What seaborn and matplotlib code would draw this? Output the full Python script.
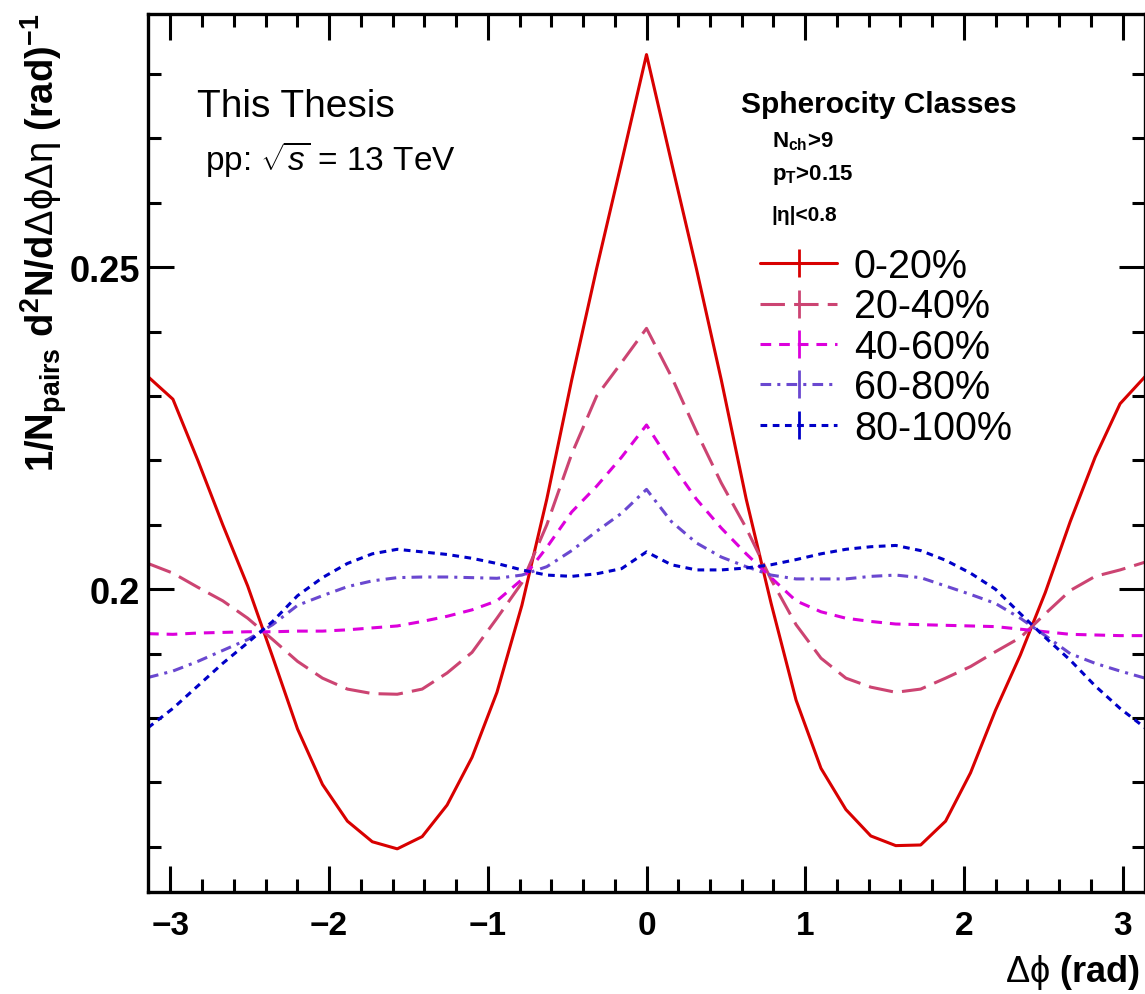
import numpy as np
import pandas as pd
import matplotlib
matplotlib.use("Agg")
import matplotlib.pyplot as plt
from matplotlib.lines import Line2D
from matplotlib.ticker import FixedLocator, FixedFormatter, MultipleLocator
import seaborn as sns

# ---- data: two-particle angular correlations per spherocity class ----
dphi = np.linspace(-np.pi, np.pi, 41)

classes = ["0-20%", "20-40%", "40-60%", "60-80%", "80-100%"]

s0_20 = [0.2330, 0.2295, 0.2200, 0.2100, 0.2005, 0.1895, 0.1783, 0.1697, 0.1640, 0.1608,
         0.1597, 0.1616, 0.1665, 0.1739, 0.1840, 0.1975, 0.2140, 0.2325, 0.2498, 0.2663,
         0.2830,
         0.2663, 0.2498, 0.2325, 0.2140, 0.1978, 0.1828, 0.1722, 0.1658, 0.1617, 0.1602,
         0.1603, 0.1640, 0.1715, 0.1812, 0.1898, 0.1995, 0.2105, 0.2205, 0.2288, 0.2330]

s20_40 = [0.2040, 0.2025, 0.2003, 0.1982, 0.1955, 0.1922, 0.1888, 0.1862, 0.1845, 0.1838,
          0.1837, 0.1845, 0.1870, 0.1902, 0.1955, 0.2010, 0.2100, 0.2210, 0.2300, 0.2352,
          0.2405,
          0.2330, 0.2245, 0.2165, 0.2095, 0.2015, 0.1945, 0.1893, 0.1862, 0.1848, 0.1840,
          0.1845, 0.1862, 0.1880, 0.1903, 0.1925, 0.1962, 0.1998, 0.2020, 0.2030, 0.2042]

s40_60 = [0.1931, 0.1930, 0.1932, 0.1933, 0.1934, 0.1934, 0.1935, 0.1935, 0.1937, 0.1940,
          0.1943, 0.1950, 0.1958, 0.1968, 0.1982, 0.2015, 0.2065, 0.2120, 0.2160, 0.2205,
          0.2255,
          0.2195, 0.2140, 0.2095, 0.2055, 0.2018, 0.1982, 0.1965, 0.1955, 0.1950, 0.1946,
          0.1945, 0.1944, 0.1943, 0.1942, 0.1938, 0.1934, 0.1930, 0.1929, 0.1928, 0.1928]

s60_80 = [0.1863, 0.1873, 0.1888, 0.1905, 0.1922, 0.1945, 0.1975, 0.1990, 0.2004, 0.2013,
          0.2018, 0.2019, 0.2019, 0.2018, 0.2017, 0.2022, 0.2035, 0.2060, 0.2090, 0.2118,
          0.2155,
          0.2105, 0.2072, 0.2050, 0.2035, 0.2022, 0.2016, 0.2016, 0.2016, 0.2020, 0.2022,
          0.2018, 0.2005, 0.1992, 0.1978, 0.1955, 0.1928, 0.1900, 0.1885, 0.1873, 0.1862]

s80_100 = [0.1785, 0.1815, 0.1850, 0.1885, 0.1917, 0.1950, 0.1990, 0.2018, 0.2040, 0.2055,
           0.2062, 0.2058, 0.2054, 0.2048, 0.2040, 0.2030, 0.2022, 0.2020, 0.2024, 0.2032,
           0.2058,
           0.2038, 0.2030, 0.2030, 0.2033, 0.2038, 0.2046, 0.2055, 0.2062, 0.2066, 0.2068,
           0.2060, 0.2045, 0.2025, 0.2000, 0.1962, 0.1925, 0.1890, 0.1850, 0.1815, 0.1785]

series = [s0_20, s20_40, s40_60, s60_80, s80_100]

xtick_values = [-3, -2, -1, 0, 1, 2, 3]
ytick_values = [0.20, 0.25]
ytick_labels = ["0.2", "0.25"]

# ---- styling ----
colors = ["#d80000", "#cc4472", "#dc00dc", "#6a48d0", "#0000c8"]
dash_styles = ["", (8, 3), (3.5, 2.6), (3.5, 2, 1, 2), (2.2, 1.8)]

sns.set_theme(style="white")
plt.rcParams["font.family"] = ["Liberation Sans", "DejaVu Sans"]
plt.rcParams["font.weight"] = "bold"
plt.rcParams["text.color"] = "black"
plt.rcParams["axes.labelcolor"] = "black"
plt.rcParams["xtick.color"] = "black"
plt.rcParams["ytick.color"] = "black"
plt.rcParams["mathtext.fontset"] = "custom"
plt.rcParams["mathtext.rm"] = "Liberation Sans:weight=normal"
plt.rcParams["mathtext.it"] = "Liberation Sans:style=italic:weight=normal"
plt.rcParams["mathtext.bf"] = "Liberation Sans:weight=bold"
plt.rcParams["axes.unicode_minus"] = True

df = pd.concat(
    [pd.DataFrame({"dphi": dphi, "val": vals, "cls": name}) for name, vals in zip(classes, series)],
    ignore_index=True,
)

fig = plt.figure(figsize=(11.45, 9.95), dpi=100)
ax = fig.add_axes([148 / 1145, 1 - 893 / 995, 1 - 148 / 1145, (893 - 15) / 995])

sns.lineplot(
    data=df, x="dphi", y="val", hue="cls", style="cls",
    palette=dict(zip(classes, colors)),
    dashes=dict(zip(classes, dash_styles)),
    linewidth=2.2, legend=False, ax=ax, estimator=None, sort=True,
)

ax.set_xlim(-np.pi, np.pi)
ax.set_ylim(0.153, 0.2893)
ax.set_xlabel("")
ax.set_ylabel("")

ax.xaxis.set_major_locator(FixedLocator(xtick_values))
ax.xaxis.set_minor_locator(MultipleLocator(0.2))
ax.yaxis.set_major_locator(FixedLocator(ytick_values))
ax.yaxis.set_major_formatter(FixedFormatter(ytick_labels))
ax.yaxis.set_minor_locator(MultipleLocator(0.01))

ax.tick_params(which="both", direction="in", top=True, bottom=True, left=True, right=True,
               width=2.2, color="black", labelcolor="black")
ax.tick_params(which="major", length=19)
ax.tick_params(which="minor", length=9.5)
ax.tick_params(axis="x", which="major", pad=13, labelsize=24)
ax.tick_params(axis="y", which="major", pad=6, labelsize=26)

for sp in ax.spines.values():
    sp.set_linewidth(2.4)
    sp.set_color("black")

# ---- axis titles ----
fig.text(44 / 1145, 1 - 14 / 995,
         r"1/N$_{\mathbf{pairs}}$ d$^{\mathbf{2}}$N/d$\mathrm{\Delta\phi\Delta\eta}$ (rad)$^{\mathbf{-1}}$",
         rotation=90, ha="center", va="top", fontsize=27.5, fontweight="bold")
fig.text(1140 / 1145, 1 - 982 / 995, r"$\mathrm{\Delta\phi}$ (rad)", ha="right", va="baseline",
         fontsize=26, fontweight="bold")

# ---- annotations ----
fig.text(197 / 1145, 1 - 117 / 995, "This Thesis", fontsize=28, fontweight="normal",
         ha="left", va="baseline")
fig.text(205 / 1145, 1 - 170 / 995, r"pp: $\sqrt{s}$ = 13 TeV", fontsize=24,
         fontweight="normal", ha="left", va="baseline")

fig.text(741 / 1145, 1 - 113 / 995, "Spherocity Classes", fontsize=21.5,
         fontweight="bold", ha="left", va="baseline")
fig.text(772 / 1145, 1 - 147 / 995, r"N$_{\mathbf{ch}}$>9", fontsize=16,
         fontweight="bold", ha="left", va="baseline")
fig.text(772 / 1145, 1 - 180 / 995, r"p$_{\mathbf{T}}$>0.15", fontsize=16,
         fontweight="bold", ha="left", va="baseline")
fig.text(771 / 1145, 1 - 221 / 995, "|η|<0.8", fontsize=15,
         fontweight="bold", ha="left", va="baseline")

# ---- legend ----
handles = []
for c, d in zip(colors, dash_styles):
    ls = "-" if d == "" else (0, d)
    handles.append(Line2D([], [], color=c, lw=2.2, linestyle=ls, marker="|",
                          markersize=20, markeredgewidth=2.0, markeredgecolor=c))
leg = fig.legend(handles, classes, loc="upper left",
                 bbox_to_anchor=(760 / 1145, 1 - 248 / 995),
                 frameon=False, prop={"family": ["Liberation Sans"], "size": 28.5, "weight": "normal"},
                 handlelength=1.95, handletextpad=0.42, labelspacing=0.06,
                 borderpad=0, borderaxespad=0)
for t in leg.get_texts():
    t.set_color("black")

fig.savefig("out.png", dpi=100)
